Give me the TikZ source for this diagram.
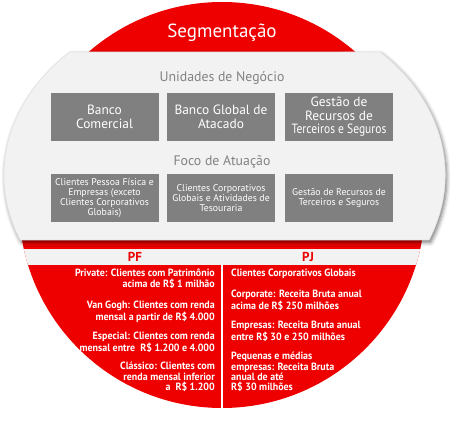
\documentclass[tikz,border=0pt]{standalone}
\usepackage{fontspec}
\setmainfont{PT Sans}
\newfontfamily\narrowfont{PT Sans}[FakeStretch=0.86]
\newfontfamily\colfont{PT Sans}[FakeStretch=0.95]
\usetikzlibrary{shadows.blur}
\definecolor{segred}{RGB}{238,0,0}
\definecolor{panelgray}{RGB}{242,242,242}
\definecolor{boxgray}{RGB}{128,128,128}
\definecolor{labelgray}{RGB}{130,130,130}
\tikzset{
  gbox/.style={fill=boxgray, text=white, minimum width=108pt, minimum height=48pt, inner sep=0pt, align=center},
  bigtxt/.style={font=\fontsize{13.4}{13.5}\selectfont},
  smalltxt/.style={font=\fontsize{9.8}{10}\selectfont},
  heading/.style={text=labelgray, font=\fontsize{13.8}{15}\selectfont},
  pfpj/.style={text=segred, font=\bfseries\fontsize{13}{15}\selectfont},
  pftxt/.style={text=white, inner sep=0pt, anchor=north east, align=right, font=\colfont\bfseries\fontsize{10.5}{10.4}\selectfont},
  pjtxt/.style={text=white, inner sep=0pt, anchor=north west, align=left, font=\colfont\bfseries\fontsize{10.5}{10.4}\selectfont}
}
\begin{document}
\begin{tikzpicture}[x=1pt,y=1pt]
\useasboundingbox (0,0) rectangle (450,-427);
% red disc
\fill[segred] (222,-205) circle (203);
% PF / PJ header strip and divider
\begin{scope}
  \clip (222,-205) circle (203);
  \fill[panelgray] (0,-249) rectangle (450,-265);
  \draw[white, line width=2pt] (222,-265) -- (222,-430);
\end{scope}
% light panel
\path[fill=panelgray, draw={rgb,255:red,225;green,225;blue,225}, line width=0.6pt,
  blur shadow={shadow xshift=1.5pt, shadow yshift=-2.5pt, shadow blur radius=4pt, shadow opacity=55}]
  (380,-52) arc[start angle=45.3, end angle=-22.07, x radius=220, y radius=173]
  -- (20.2,-240)
  arc[start angle=202.07, end angle=134.7, x radius=222, y radius=173]
  -- cycle;
% title
\node[text=white, font=\fontsize{19}{21}\selectfont] (title) at (222,-33) {Segmentação};
% headings
\node[heading] (units) at (222,-78) {Unidades de Negócio};
\node[heading] (foco) at (222,-162) {Foco de Atuação};
% business units
\node[gbox, bigtxt] (u1) at (104.5,-117) {Banco\\Comercial};
\node[gbox, bigtxt] (u2) at (221,-117) {Banco Global de\\Atacado};
\node[gbox, bigtxt] (u3) at (339,-117) {Gestão de\\Recursos de\\{\narrowfont Terceiros e Seguros}};
% focus
\node[gbox, smalltxt] (f1) at (104.5,-198.5) {Clientes Pessoa Física e\\Empresas (exceto\\Clientes Corporativos\\Globais)};
\node[gbox, smalltxt] (f2) at (221,-198.5) {Clientes Corporativos\\Globais e Atividades de\\Tesouraria};
\node[gbox, smalltxt] (f3) at (339,-198.5) {Gestão de Recursos de\\Terceiros e Seguros};
% PF / PJ
\node[pfpj] (pf) at (135,-257) {PF};
\node[pfpj] (pj) at (308,-257) {PJ};
% PF column
\node[pftxt] (pf1) at (215,-269) {Private: Clientes com Patrimônio\\acima de R\$ 1 milhão};
\node[pftxt] (pf2) at (215,-301) {Van Gogh: Clientes com renda\\mensal a partir de R\$ 4.000};
\node[pftxt] (pf3) at (215,-332) {Especial: Clientes com renda\\mensal entre~ R\$ 1.200 e 4.000};
\node[pftxt] (pf4) at (215,-362) {Clássico: Clientes com\\renda mensal inferior\\a~ R\$ 1.200};
% PJ column
\node[pjtxt] (pj1) at (231,-269) {Clientes Corporativos Globais};
\node[pjtxt] (pj2) at (231,-290) {Corporate: Receita Bruta anual\\acima de R\$ 250 milhões};
\node[pjtxt] (pj3) at (231,-321) {Empresas: Receita Bruta anual\\entre R\$ 30 e 250 milhões};
\node[pjtxt] (pj4) at (231,-352) {Pequenas e médias\\empresas: Receita Bruta\\anual de até\\R\$ 30 milhões};
\end{tikzpicture}
\end{document}
